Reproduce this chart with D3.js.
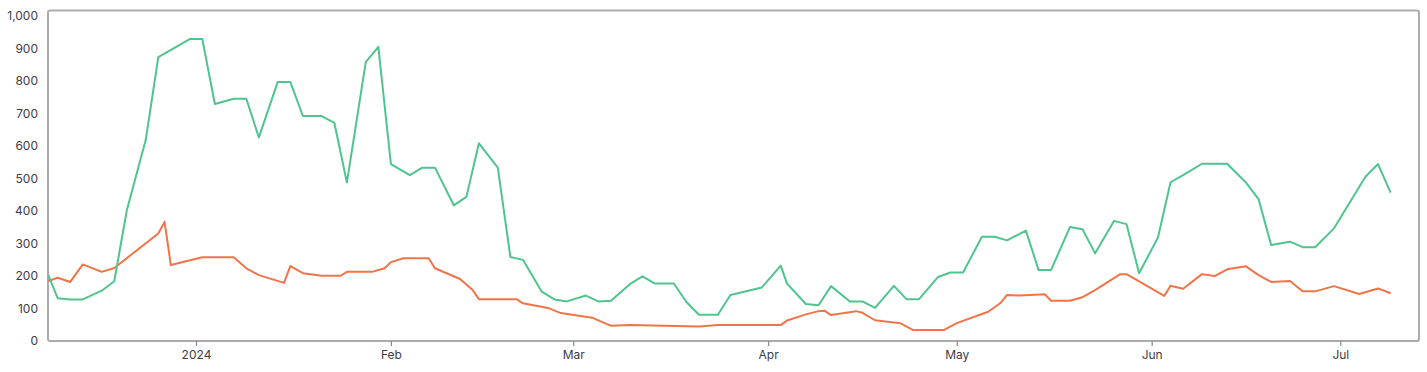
<!DOCTYPE html>
<html>
<head>
<meta charset="utf-8">
<script src="https://cdn.jsdelivr.net/npm/d3@7"></script>
<style>
  html, body { margin: 0; padding: 0; background: #fff; }
  svg { display: block; }
  .tick text { font-family: Inter, "Open Sans", sans-serif; font-size: 12px; fill: #3b3b48; }
</style>
</head>
<body>
<svg id="chart" width="1427" height="372"></svg>
<script>
// ---- data ----
const greenDates = ["2023-12-08T12:00Z","2023-12-10","2023-12-12","2023-12-14","2023-12-17","2023-12-19","2023-12-21","2023-12-24","2023-12-26","2023-12-31",
  "2024-01-02","2024-01-04","2024-01-07","2024-01-09","2024-01-11","2024-01-14","2024-01-16","2024-01-18","2024-01-21","2024-01-23","2024-01-25","2024-01-28","2024-01-30",
  "2024-02-01","2024-02-04","2024-02-06","2024-02-08","2024-02-11","2024-02-13","2024-02-15","2024-02-18","2024-02-20","2024-02-22","2024-02-25","2024-02-27","2024-02-29",
  "2024-03-03","2024-03-05","2024-03-07","2024-03-10","2024-03-12","2024-03-14","2024-03-17","2024-03-19","2024-03-21","2024-03-24","2024-03-26","2024-03-31",
  "2024-04-03","2024-04-04","2024-04-07","2024-04-09","2024-04-11","2024-04-14","2024-04-16","2024-04-18","2024-04-21","2024-04-23","2024-04-25","2024-04-28","2024-04-30",
  "2024-05-02","2024-05-05","2024-05-07","2024-05-09","2024-05-12","2024-05-14","2024-05-16","2024-05-19","2024-05-21","2024-05-23","2024-05-26","2024-05-28","2024-05-30",
  "2024-06-02","2024-06-04","2024-06-06","2024-06-09","2024-06-13","2024-06-16","2024-06-18","2024-06-20","2024-06-23","2024-06-25","2024-06-27","2024-06-30",
  "2024-07-05","2024-07-07","2024-07-09"];
const greenValues = [202,131,127,127,154,183,402,618,873,929,
  929,729,745,745,626,797,797,692,692,671,487,858,905,
  544,510,533,533,417,443,608,533,258,249,151,127,121,
  139,121,123,174,198,176,176,119,80,80,141,164,
  231,176,113,109,168,121,121,101,169,128,128,196,210,
  210,320,320,309,339,218,218,350,343,269,369,359,208,
  318,488,510,545,545,487,436,295,305,288,288,346,
  505,544,456];

const orangeDates = ["2023-12-08T12:00Z","2023-12-10","2023-12-12","2023-12-14","2023-12-17","2023-12-19","2023-12-26","2023-12-27","2023-12-28",
  "2024-01-02","2024-01-07","2024-01-09","2024-01-11","2024-01-15","2024-01-16","2024-01-18","2024-01-21","2024-01-24","2024-01-25","2024-01-29","2024-01-31",
  "2024-02-01","2024-02-03","2024-02-07","2024-02-08","2024-02-12","2024-02-14","2024-02-15","2024-02-21","2024-02-22","2024-02-26","2024-02-28",
  "2024-03-04","2024-03-06","2024-03-07","2024-03-10","2024-03-21","2024-03-24",
  "2024-04-03","2024-04-04","2024-04-07","2024-04-09","2024-04-10","2024-04-11","2024-04-15","2024-04-16","2024-04-18","2024-04-22","2024-04-24","2024-04-29",
  "2024-05-01","2024-05-06","2024-05-08","2024-05-09","2024-05-11","2024-05-15","2024-05-16","2024-05-19","2024-05-21","2024-05-23","2024-05-27","2024-05-28",
  "2024-06-03","2024-06-04","2024-06-06","2024-06-09","2024-06-11","2024-06-13","2024-06-16","2024-06-18","2024-06-20","2024-06-23","2024-06-25","2024-06-27","2024-06-30",
  "2024-07-04","2024-07-07","2024-07-09"];
const orangeValues = [184,194,181,235,212,224,330,366,233,
  257,257,223,202,178,230,208,200,200,212,212,223,
  242,254,254,223,190,156,128,128,115,101,85,
  71,54,46,48,44,48,
  48,62,81,91,92,79,91,86,63,54,33,33,
  54,89,117,141,139,143,123,123,134,156,205,205,
  138,169,160,205,199,220,229,202,181,184,152,152,168,
  144,161,146];

const yTicks = [0,100,200,300,400,500,600,700,800,900,1000];
const xDomain = ["2023-12-08T12:00Z", "2024-07-13T12:00Z"];

// ---- chart ----
const svg = d3.select("#chart");
const frame = {left: 48, right: 1419, top: 10.5, bottom: 341};

const x = d3.scaleUtc()
  .domain(xDomain.map(d => new Date(d)))
  .range([48.25, 1418.9]);
const y = d3.scaleLinear()
  .domain([0, 1000])
  .range([340.7, 16]);

// frame
svg.append("rect")
  .attr("x", frame.left).attr("y", frame.top)
  .attr("width", frame.right - frame.left)
  .attr("height", frame.bottom - frame.top)
  .attr("rx", 2)
  .attr("fill", "none")
  .attr("stroke", "#ababab")
  .attr("stroke-width", 2);

// y axis (labels only)
const yAxis = d3.axisLeft(y).tickValues(yTicks).tickFormat(d3.format(",")).tickSize(0).tickPadding(10);
svg.append("g").attr("transform", `translate(${frame.left},0)`).call(yAxis)
  .call(g => g.select(".domain").remove());

// x axis
const fmtX = d => d.getUTCMonth() === 0 ? d3.utcFormat("%Y")(d) : d3.utcFormat("%b")(d);
const xAxis = d3.axisBottom(x).ticks(d3.utcMonth.every(1)).tickFormat(fmtX).tickSize(5).tickPadding(4);
svg.append("g").attr("transform", `translate(0,${frame.bottom})`).call(xAxis)
  .call(g => g.select(".domain").remove())
  .call(g => g.selectAll(".tick line").attr("stroke", "#888").attr("stroke-width", 1.2));

// lines
const line = d3.line().x(d => x(d.date)).y(d => y(d.value));
const green = greenDates.map((d, i) => ({date: new Date(d), value: greenValues[i]}));
const orange = orangeDates.map((d, i) => ({date: new Date(d), value: orangeValues[i]}));

svg.append("path").datum(orange)
  .attr("d", line).attr("fill", "none")
  .attr("stroke", "#ef7549").attr("stroke-width", 2).attr("stroke-linejoin", "round");
svg.append("path").datum(green)
  .attr("d", line).attr("fill", "none")
  .attr("stroke", "#4fc48d").attr("stroke-width", 2).attr("stroke-linejoin", "round");
</script>
</body>
</html>
